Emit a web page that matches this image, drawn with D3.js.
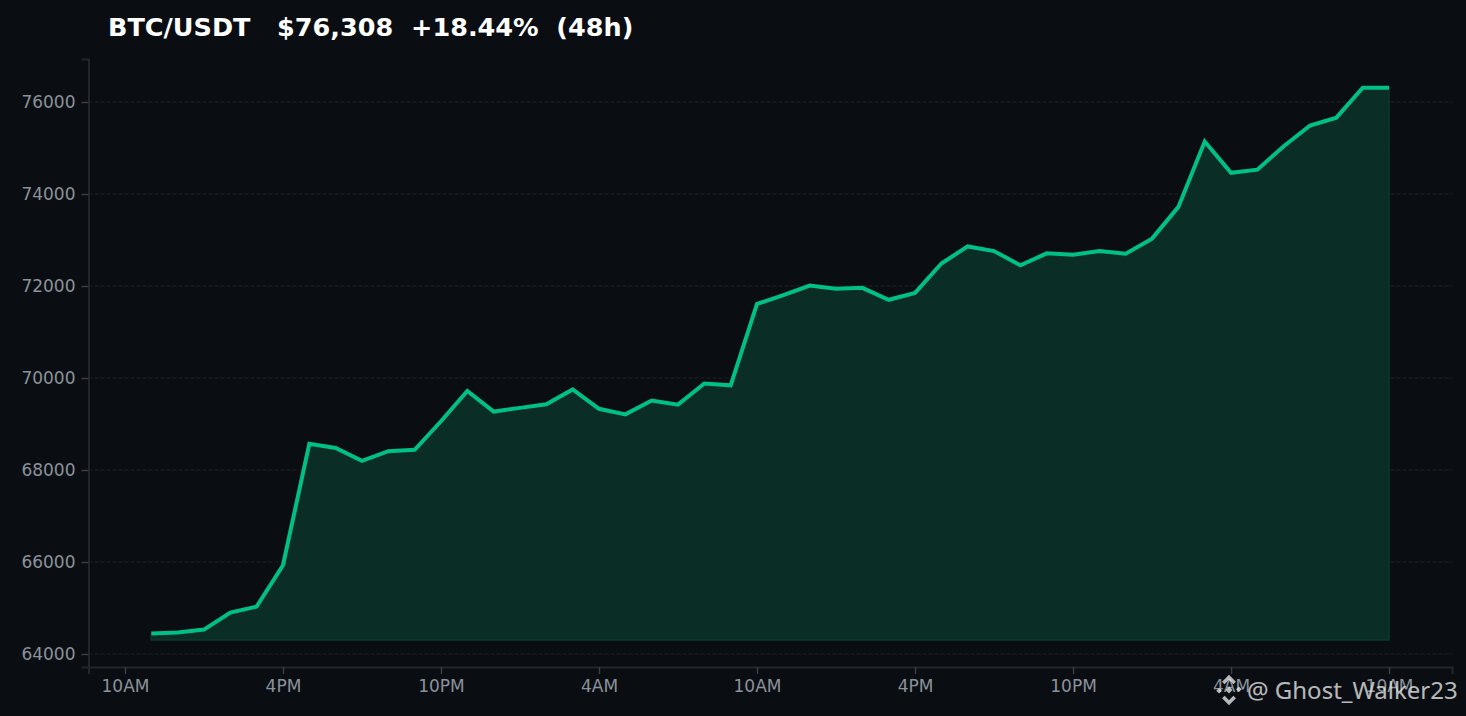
<!DOCTYPE html>
<html><head><meta charset="utf-8">
<script src="https://cdn.jsdelivr.net/npm/d3@7/dist/d3.min.js"></script>
<style>html,body{margin:0;padding:0;background:#0a0e12;overflow:hidden}svg{display:block}text{font-family:"DejaVu Sans",sans-serif}</style>
</head><body><svg id="c" width="1466" height="716"></svg>
<script>
const titleText = "BTC/USDT   $76,308  +18.44%  (48h)";
const watermark = "@ Ghost_Walker23";
const hours = [1,2,3,4,5,6,7,8,9,10,11,12,13,14,15,16,17,18,19,20,21,22,23,24,25,26,27,28,29,30,31,32,33,34,35,36,37,38,39,40,41,42,43,44,45,46,47,48];
const prices = [64446,64467,64530,64900,65030,65930,68570,68480,68200,68410,68440,69060,69720,69270,69350,69430,69750,69330,69210,69510,69420,69880,69840,71610,71800,72010,71940,71960,71700,71850,72490,72860,72760,72450,72710,72680,72760,72700,73030,73720,75140,74460,74530,75040,75490,75660,76310,76308];
const xTickHours = [0,6,12,18,24,30,36,42,48];
const xTickLabels = ["10AM","4PM","10PM","4AM","10AM","4PM","10PM","4AM","10AM"];
const yTicks = [64000,66000,68000,70000,72000,74000,76000];
const baseline = 64304;

const svg = d3.select("#c");
const x = d3.scaleLinear().domain([-1.385,50.39]).range([88.5,1452]);
const y = d3.scaleLinear().domain([63717,76935]).range([667,59]);
const pts = hours.map((h,i)=>({h,p:prices[i]}));

svg.append("rect").attr("width",1466).attr("height",716).attr("fill","#0a0e12");

svg.append("g").selectAll("line").data(yTicks).join("line")
  .attr("x1",x.range()[0]).attr("x2",x.range()[1]).attr("y1",d=>y(d)).attr("y2",d=>y(d))
  .attr("stroke","#1e2327").attr("stroke-width",1).attr("stroke-dasharray","4 2");

svg.append("path").datum(pts)
  .attr("d",d3.area().x(d=>x(d.h)).y0(y(baseline)).y1(d=>y(d.p)))
  .attr("fill","#0a2d26").attr("stroke","#0b3a2e").attr("stroke-width",1.4);

svg.append("path").datum(pts)
  .attr("d",d3.line().x(d=>x(d.h)).y(d=>y(d.p)))
  .attr("fill","none").attr("stroke","#00c087").attr("stroke-width",4);

const axisColor="#22272c", tickText="#8b929b";
const gx = svg.append("g").attr("transform",`translate(0,${667})`)
  .call(d3.axisBottom(x).tickValues(xTickHours).tickFormat((d,i)=>xTickLabels[i]).tickSizeOuter(0).tickSize(7).tickPadding(6));
const gy = svg.append("g").attr("transform",`translate(${88.5},0)`)
  .call(d3.axisLeft(y).tickValues(yTicks).tickFormat(d3.format("d")).tickSizeOuter(0).tickSize(7).tickPadding(6));
[gx,gy].forEach(g=>{
  g.select(".domain").attr("stroke",axisColor).attr("stroke-width",2);
  g.selectAll(".tick line").attr("stroke","#3a4046").attr("stroke-width",1.4);
  g.selectAll("text").attr("fill",tickText).attr("font-size",17).attr("font-family","DejaVu Sans");
});

svg.append("text").attr("x",108).attr("y",36).attr("fill","#fff").attr("font-size",25.5).attr("font-weight",700).attr("xml:space","preserve").style("white-space","pre").text(titleText);

// watermark
const wm = svg.append("g").attr("opacity",0.78);
const icon = wm.append("g").attr("transform","translate(1229,690) rotate(45)").attr("fill","none").attr("stroke","#e8e8e8").attr("stroke-width",3.6);
icon.append("rect").attr("x",-2.5).attr("y",-2.5).attr("width",5).attr("height",5).attr("fill","#e8e8e8").attr("stroke","none");
icon.append("path").attr("d","M-9 -1V-9H-1M9 1V9H1");
icon.append("rect").attr("x",4.5).attr("y",-9.5).attr("width",4).attr("height",4).attr("fill","#e8e8e8").attr("stroke","none");
icon.append("rect").attr("x",-8.5).attr("y",5.5).attr("width",4).attr("height",4).attr("fill","#e8e8e8").attr("stroke","none");
wm.append("text").attr("x",1247).attr("y",699).attr("fill","#e8e8e8").attr("font-size",24).style("font-family","'Noto Sans'").text(watermark);
</script></body></html>
